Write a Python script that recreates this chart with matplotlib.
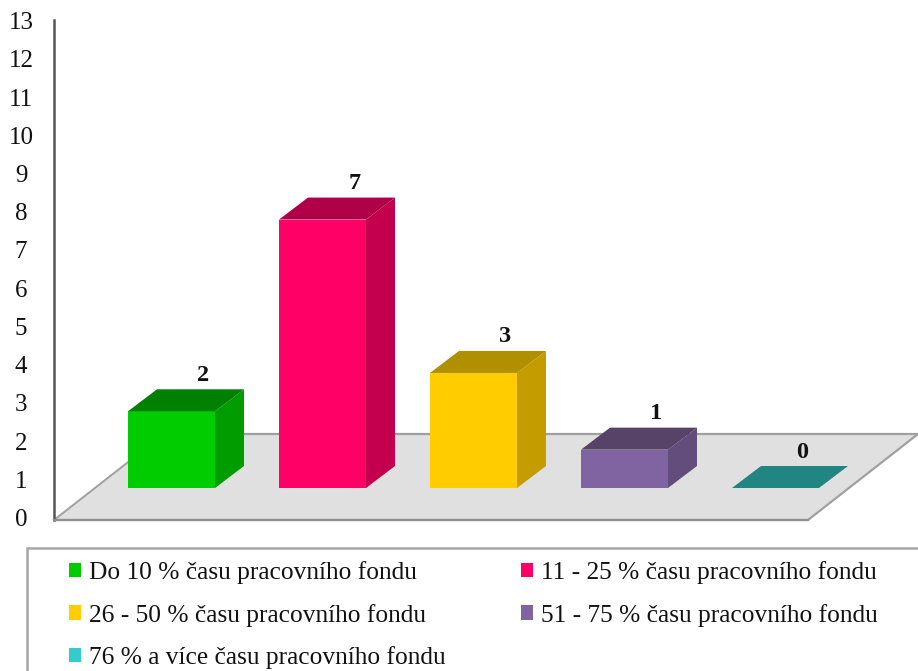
import matplotlib
matplotlib.use("Agg")
import matplotlib.pyplot as plt
from matplotlib.patches import Patch, Polygon, Rectangle

categories = ["Do 10 % času pracovního fondu", "11 - 25 % času pracovního fondu",
              "26 - 50 % času pracovního fondu", "51 - 75 % času pracovního fondu",
              "76 % a více času pracovního fondu"]
values = [2, 7, 3, 1, 0]
y_ticks = list(range(14))
front_colors = ["#00CC00", "#FF0066", "#FFCC00", "#8064A2", "#33CCCC"]
side_colors = ["#009C00", "#C4004E", "#C49C00", "#624D7C", "#279C9C"]
top_colors = ["#008000", "#B00047", "#B08F00", "#574268", "#218582"]

W, H = 918, 671
PX_X, PX_Y = 151.0, 38.35     # pixels per category / per value
X0, Y0 = 171.5, 488.0         # pixel position of category 0 / value 0 at the front
plt.rcParams["font.family"] = ["Liberation Serif", "DejaVu Serif"]

fig = plt.figure(figsize=(W / 100, H / 100), dpi=100)
ax = fig.add_axes([0, 0, 1, 1])
ax.set_xlim(-X0 / PX_X, (W - X0) / PX_X)
ax.set_ylim((Y0 - H) / PX_Y, Y0 / PX_Y)
ax.axis("off")

bw = 87 / PX_X
dx, dy = 29 / PX_X, 22 / PX_Y
ax_floor = -32 / PX_Y                # wall bottom relative to value 0
ax_top = (Y0 - 20) / PX_Y            # wall top
back = 54 / PX_Y                     # floor back edge
xl = (54 - X0) / PX_X
xr = (808 - X0) / PX_X
run = 110 / PX_X

ax.add_patch(Polygon([(xl, ax_floor), (xr, ax_floor), (xr + run, back), (xl + run, back)],
                     closed=True, fc="#E0E0E0", ec="none", zorder=1))
ax.plot([xl, xr, xr + run], [ax_floor, ax_floor, back], color="#A0A0A0", lw=1.6, zorder=2)
ax.plot([xl + run, xr + run], [back, back], color="#A0A0A0", lw=1.6, zorder=2)
ax.plot([xl, xl + run], [ax_floor, back], color="#A0A0A0", lw=1.4, zorder=2)
ax.plot([xl, xl], [ax_floor, ax_top], color="#555555", lw=1.8, zorder=3)
ax.plot([xl, xr], [ax_floor, ax_floor], color="#909090", lw=1.6, zorder=3)

for t in y_ticks:
    ax.text(xl - 33 / PX_X, t * 38.22 / PX_Y - 32 / PX_Y, str(t), ha="center", va="center",
            fontsize=18, color="#111111", zorder=5)

for i, (v, fc, sc, tc) in enumerate(zip(values, front_colors, side_colors, top_colors)):
    l, r = i - bw / 2, i + bw / 2
    z = 4 + i
    if v > 0:
        ax.add_patch(Rectangle((l, 0), bw, v, fc=fc, ec="none", zorder=z))
        ax.add_patch(Polygon([(r, 0), (r + dx, dy), (r + dx, v + dy), (r, v)], fc=sc, ec="none", zorder=z))
    ax.add_patch(Polygon([(l, v), (r, v), (r + dx, v + dy), (l + dx, v + dy)], fc=tc, ec="none", zorder=z))
    off = 27 if v == 0 else 32
    ax.text(i + off / PX_X, v + 36 / PX_Y, str(v), ha="center", va="center",
            fontsize=17.5, fontweight="bold", color="#111111", zorder=10)

# Legend frame runs off the right and bottom of the picture
ax.add_patch(Rectangle((xl - 27 / PX_X, -H), 100, H + (Y0 - 548) / PX_Y, fc="white",
                       ec="#A6A6A6", lw=1.8, zorder=1))

handles = [Patch(fc=c, ec="none", label=n) for c, n in zip(front_colors, categories)]
order = [0, 2, 4, 1, 3]
ax.legend([handles[k] for k in order], [categories[k] for k in order],
          ncol=2, frameon=False, fontsize=18.3, loc="upper left",
          bbox_to_anchor=(69 / W, 1 - 561 / H), bbox_transform=fig.transFigure,
          borderpad=0, borderaxespad=0, handlelength=0.48, handleheight=0.48,
          handletextpad=0.3, labelspacing=0.77, columnspacing=2.98, labelcolor="#111111")

fig.savefig("out.png", dpi=100)
